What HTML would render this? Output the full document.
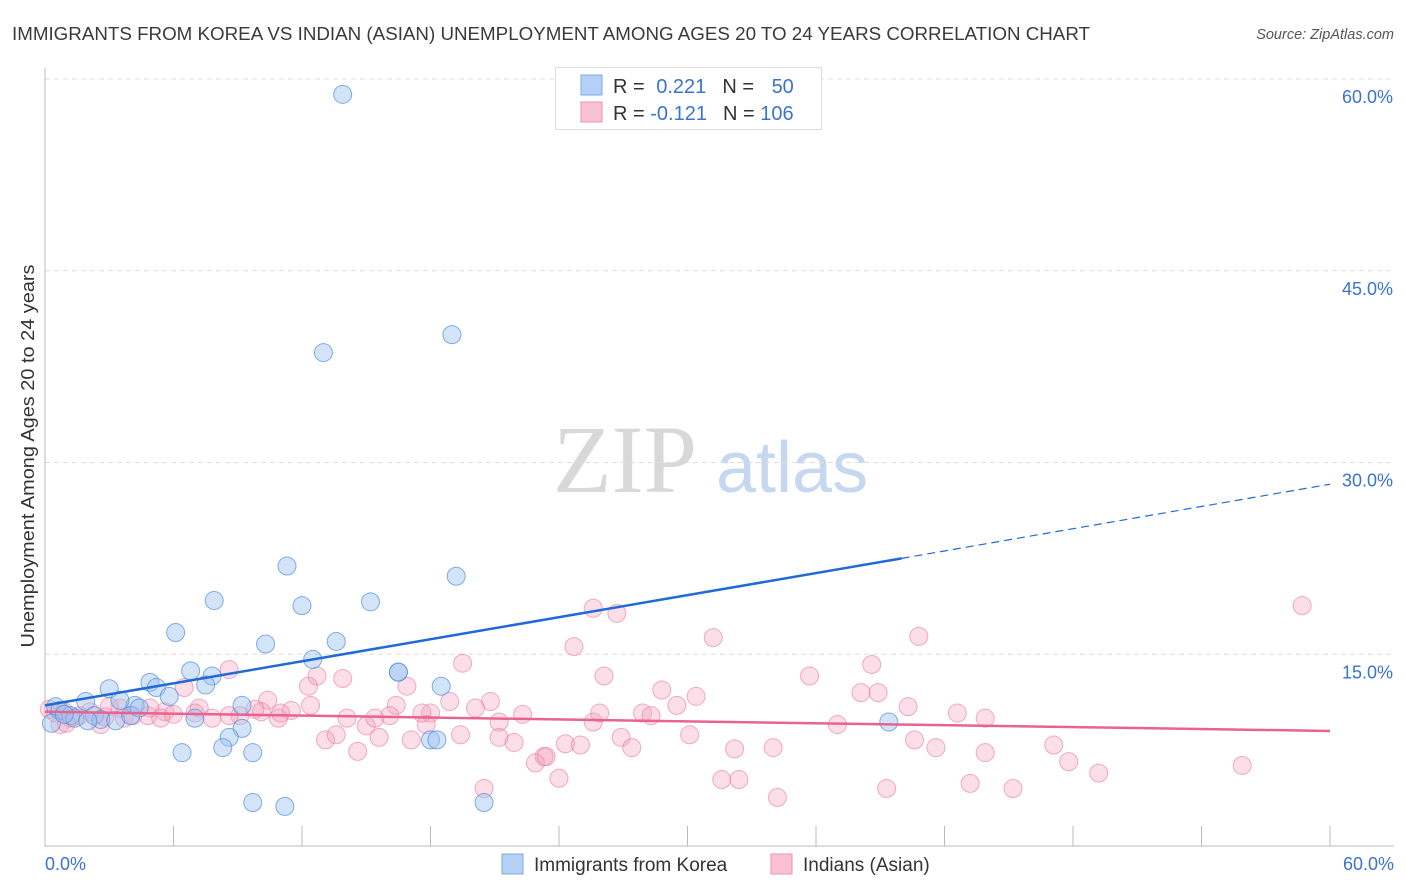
<!DOCTYPE html>
<html><head><meta charset="utf-8"><style>
body{margin:0;background:#fff;font-family:"Liberation Sans",sans-serif;}
svg{display:block}
</style></head><body>
<svg id="chart" width="1406" height="892">
<text x="12" y="40" font-size="18" fill="#3a3a3a" textLength="1078" lengthAdjust="spacingAndGlyphs">IMMIGRANTS FROM KOREA VS INDIAN (ASIAN) UNEMPLOYMENT AMONG AGES 20 TO 24 YEARS CORRELATION CHART</text>
<text x="1394" y="39" font-size="14.5" fill="#555" font-style="italic" text-anchor="end">Source: ZipAtlas.com</text>
<text x="0" y="0" transform="translate(34,456) rotate(-90)" font-size="18" fill="#333" text-anchor="middle" textLength="383" lengthAdjust="spacingAndGlyphs">Unemployment Among Ages 20 to 24 years</text>
<g>
<text x="553" y="492" font-family="Liberation Serif,serif" font-size="96" fill="#d8d8d8">ZIP</text>
<text x="716" y="492" font-size="72" fill="#c5d8f0">atlas</text>
</g>
<g id="grid"></g><g id="axes"></g><g id="pink"></g><g id="blue"></g><g id="lines"></g>
<g>
<rect x="555.5" y="67.5" width="266" height="62" fill="#fff" stroke="#ddd"/>
<rect x="581" y="75" width="21" height="20" fill="#b5d0f5" stroke="#7aa8e8"/>
<rect x="581" y="102" width="21" height="20" fill="#f9c2d3" stroke="#ef93b2"/>
<text x="613" y="93" font-size="20" fill="#333">R = <tspan fill="#3b73d0" dx="6">0.221</tspan><tspan fill="#333" dx="16">N = </tspan><tspan fill="#3b73d0" dx="12">50</tspan></text>
<text x="613" y="120" font-size="20" fill="#333">R = <tspan fill="#3b73d0">-0.121</tspan><tspan fill="#333" dx="16">N = </tspan><tspan fill="#3b73d0">106</tspan></text>
</g>
<g>
<rect x="502" y="854" width="21" height="20" fill="#b5d0f5" stroke="#7aa8e8"/>
<text x="534" y="871" font-size="19" fill="#333">Immigrants from Korea</text>
<rect x="771" y="854" width="21" height="20" fill="#f9c2d3" stroke="#ef93b2"/>
<text x="803" y="871" font-size="19" fill="#333">Indians (Asian)</text>
</g>
</svg>
<script>
const yTicks=[15,30,45,60];
const xTickLabels=["0.0%","60.0%"];
const blueX=[13.9,19.0,13.0,11.3,19.2,7.9,12.0,15.2,6.1,10.3,13.6,12.5,16.5,6.8,7.8,7.5,18.5,3.0,4.9,5.2,5.8,1.9,4.2,9.2,3.5,7.0,9.2,8.6,8.3,6.4,9.7,18.0,18.3,39.4,9.7,11.2,20.5,0.5,0.7,1.2,1.4,2.3,2.6,3.3,4.0,4.4,0.3,0.9,2.0,16.5];
const blueY=[58.8,40.0,38.6,21.9,21.1,19.2,18.8,19.1,16.7,15.8,16.0,14.6,13.6,13.7,13.3,12.6,12.5,12.3,12.8,12.4,11.7,11.3,11.0,11.0,11.4,10.0,9.2,8.5,7.7,7.3,7.3,8.3,8.3,9.7,3.4,3.1,3.4,10.9,10.6,10.2,10.0,10.2,9.9,9.8,10.2,10.8,9.6,10.3,9.8,13.6];
const pinkX=[58.7,25.6,26.7,31.2,40.8,24.7,19.5,38.6,35.7,26.1,12.7,13.9,16.9,6.5,28.8,30.4,38.1,38.9,20.8,18.9,10.4,16.4,29.5,27.9,40.3,42.6,43.9,8.6,5.6,7.2,10.1,11.5,14.1,16.1,18.0,20.1,22.3,25.6,28.3,37.0,15.0,17.8,21.2,4.8,3.5,2.1,3.7,1.6,2.6,0.7,1.2,12.3,10.9,9.1,12.4,7.8,13.1,13.6,15.6,17.1,21.2,21.9,23.3,24.3,25.0,26.9,27.4,30.1,32.2,34.0,40.6,41.6,43.9,47.1,47.8,49.2,55.9,31.6,32.4,24.0,22.9,23.4,20.5,34.2,39.3,43.2,45.2,14.6,0.2,0.5,0.9,3.0,5.4,4.1,9.8,8.6,19.4,25.9,15.4,17.6,4.9,7.0,1.0,2.8,6.0,11.0];
const pinkY=[18.8,18.6,18.2,16.3,16.4,15.6,14.3,14.2,13.3,13.3,13.3,13.1,12.5,12.4,12.2,11.7,12.0,12.0,11.3,11.3,11.4,11.0,11.0,10.4,10.9,10.4,10.0,13.8,10.5,10.8,10.5,10.6,10.0,10.2,10.4,10.8,10.3,9.7,10.2,9.5,9.4,9.5,9.7,10.2,10.8,10.5,10.0,10.2,9.5,9.5,10.0,12.5,10.0,10.2,11.0,10.0,8.3,8.7,8.5,8.3,8.5,8.1,7.0,8.0,7.9,8.5,7.7,8.7,7.6,7.7,8.3,7.7,7.3,7.9,6.6,5.7,6.3,5.2,5.2,5.3,6.5,7.0,4.5,3.8,4.5,4.9,4.5,7.4,10.7,10.4,10.5,10.9,10.0,10.2,10.7,10.2,8.7,10.4,10.0,10.4,10.8,10.4,9.6,10.1,10.3,10.4];
const blueTrend=[11.0,22.5,28.3];
const blueTrendX=[0,40,60];
const pinkTrend=[10.5,9.0];
const pinkTrendX=[0,60];
const NS="http://www.w3.org/2000/svg";
const X=v=>45+v/60*1285, Y=v=>846-v*(767/60);
function mk(t,a,p){const e=document.createElementNS(NS,t);for(const k in a)e.setAttribute(k,a[k]);document.getElementById(p).appendChild(e);return e;}
yTicks.forEach(t=>{
 const g=mk('line',{x1:45,x2:1394,y1:Y(t),y2:Y(t),stroke:'#ddd','stroke-dasharray':'5,4'},'grid');
 
 
 const l=mk('text',{x:1393,y:Y(t)+24,'font-size':18,fill:'#3b73d0','text-anchor':'end'},'axes');
 l.textContent=t.toFixed(1)+'%';
 
 
});
const ax=mk('path',{d:'M45,68V846H1394',stroke:'#bbb',fill:'none'},'axes');


for(let i=1;i<=10;i++){const t=mk('line',{x1:X(i*6),x2:X(i*6),y1:826,y2:846,stroke:'#bbb'},'axes');
 
 }
[[0,'start',45],[60,'end',1394]].forEach((d,i)=>{const t=mk('text',{x:d[2],y:870,'font-size':18,fill:'#3b73d0','text-anchor':d[1]},'axes');t.textContent=xTickLabels[i];
 
 });
pinkX.forEach((x,i)=>{const c=mk('circle',{cx:X(x),cy:Y(pinkY[i]),r:9,fill:'rgba(244,160,190,0.35)',stroke:'rgba(232,120,160,0.6)'},'pink');
 
 });
blueX.forEach((x,i)=>{const c=mk('circle',{cx:X(x),cy:Y(blueY[i]),r:9,fill:'rgba(160,195,240,0.45)',stroke:'rgba(80,140,220,0.7)'},'blue');
 
 });
const b1=mk('line',{x1:X(blueTrendX[0]),y1:Y(blueTrend[0]),x2:X(blueTrendX[1]),y2:Y(blueTrend[1]),stroke:'#1f6ad6','stroke-width':2.5},'lines');


const b2=mk('line',{x1:X(blueTrendX[1]),y1:Y(blueTrend[1]),x2:X(blueTrendX[2]),y2:Y(blueTrend[2]),stroke:'#1f6ad6','stroke-width':1.2,'stroke-dasharray':'8,5'},'lines');


const p1=mk('line',{x1:X(pinkTrendX[0]),y1:Y(pinkTrend[0]),x2:X(pinkTrendX[1]),y2:Y(pinkTrend[1]),stroke:'#e8638f','stroke-width':2.5},'lines');


</script>
</body></html>
